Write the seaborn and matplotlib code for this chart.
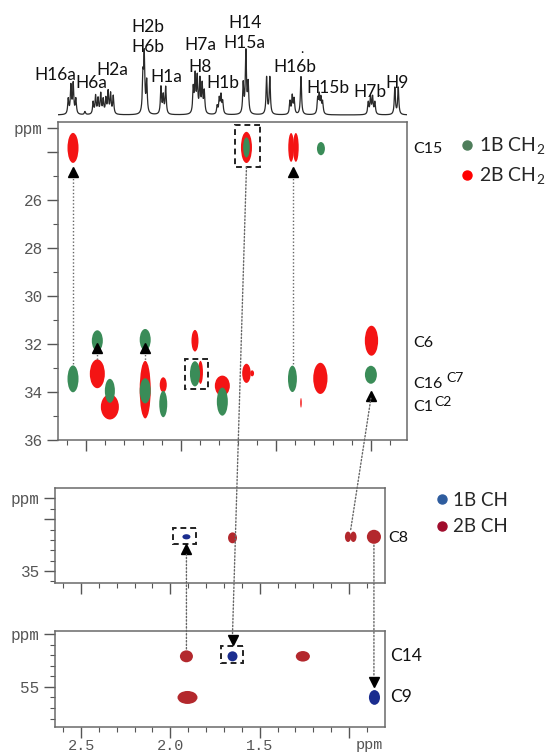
import numpy as np
import seaborn as sns
import matplotlib.pyplot as plt
from matplotlib.patches import Ellipse, Rectangle, ConnectionPatch
from matplotlib.lines import Line2D

sns.set_style("ticks")
plt.rcParams['font.family'] = ['Lato', 'DejaVu Sans']
plt.rcParams['mathtext.fontset'] = 'custom'
plt.rcParams['mathtext.rm'] = 'Lato'

# 1H spectrum: line positions (ppm) and heights
h1_shift = [2.593, 2.579, 2.567, 2.553, 2.505,
            2.462, 2.449, 2.436, 2.422, 2.409,
            2.395, 2.383, 2.370, 2.356,
            2.200, 2.193, 2.180,
            2.105, 2.093, 2.080,
            1.935, 1.925, 1.914, 1.900, 1.888, 1.877,
            1.809, 1.798, 1.789, 1.780,
            1.672, 1.658, 1.646,
            1.549, 1.532,
            1.426, 1.414, 1.404, 1.368,
            1.280, 1.272, 1.263, 1.254,
            1.014, 1.002, 0.991, 0.979,
            0.874, 0.856]
h1_height = [15, 28, 30, 15, 3,
             12, 18, 15, 20, 14,
             15, 22, 20, 18,
             35, 57, 32,
             27, 18, 27,
             25, 37, 35, 33, 28, 22,
             8, 15, 18, 12,
             30, 62, 30,
             37, 37,
             13, 18, 15, 38,
             15, 18, 15, 12,
             12, 17, 17, 12,
             27, 27]
h1_labels = ['H16a', 'H6a', 'H2a', 'H2b', 'H6b', 'H1a', 'H7a', 'H8', 'H1b',
             'H14', 'H15a', 'H16b', 'H15b', 'H7b', 'H9']

# CH2 region (1B green, 2B red): 1H ppm, 13C ppm, extent in ppm
ch2_1b_x = [1.655, 1.263, 2.568, 2.440, 2.374, 2.188, 2.188, 2.093, 1.926, 1.782, 1.413, 1.000]
ch2_1b_y = [23.80, 23.85, 33.45, 31.86, 33.95, 31.82, 33.95, 34.50, 33.24, 34.40, 33.45, 33.28]
ch2_1b_w = [0.035, 0.042, 0.058, 0.058, 0.053, 0.058, 0.058, 0.042, 0.053, 0.058, 0.047, 0.063]
ch2_1b_h = [0.84, 0.55, 1.12, 0.87, 1.00, 0.90, 1.05, 1.10, 1.05, 1.17, 1.10, 0.75]

ch2_2b_x = [2.568, 1.655, 1.420, 1.395, 2.440, 2.374, 2.188, 2.093, 1.926, 1.897,
            1.782, 1.655, 1.625, 1.368, 1.266, 0.997]
ch2_2b_y = [23.82, 23.80, 23.80, 23.80, 33.24, 34.62, 33.90, 33.70, 31.86, 33.18,
            33.74, 33.22, 33.22, 34.45, 33.43, 31.86]
ch2_2b_w = [0.058, 0.058, 0.030, 0.030, 0.079, 0.095, 0.058, 0.037, 0.037, 0.026,
            0.079, 0.045, 0.020, 0.008, 0.075, 0.070]
ch2_2b_h = [1.25, 1.30, 1.20, 1.20, 1.20, 1.05, 2.40, 0.63, 0.90, 0.96,
            0.85, 0.80, 0.25, 0.40, 1.30, 1.25]

# CH region, C8 window
c8_1b_x = [1.910]
c8_1b_y = [34.67]
c8_1b_w = [0.045]
c8_1b_h = [0.05]
c8_2b_x = [1.652, 1.005, 0.975, 0.860]
c8_2b_y = [34.68, 34.67, 34.67, 34.67]
c8_2b_w = [0.050, 0.035, 0.035, 0.079]
c8_2b_h = [0.105, 0.10, 0.10, 0.135]

# CH region, C14 / C9 window
c14_1b_x = [1.652, 0.857]
c14_1b_y = [54.71, 55.10]
c14_1b_w = [0.056, 0.062]
c14_1b_h = [0.095, 0.14]
c14_2b_x = [1.910, 1.258, 1.904]
c14_2b_y = [54.71, 54.71, 55.10]
c14_2b_w = [0.073, 0.079, 0.112]
c14_2b_h = [0.113, 0.10, 0.123]

GREEN = '#3a8c58'
RED = '#f41414'
DRED = '#b3282d'
NAVY = '#1b2d8f'
FRAME = '#6a6a6a'
TXT = '#555555'

W, H = 555, 755
fig = plt.figure(figsize=(W / 100, H / 100), dpi=100)


def rect(l, t, r, b):
    return [l / W, 1 - b / H, (r - l) / W, (b - t) / H]


ax_1d = fig.add_axes(rect(58, 5, 407, 118))
ax_top = fig.add_axes(rect(58, 122, 407, 440))
ax_mid = fig.add_axes(rect(55, 488, 385, 583))
ax_bot = fig.add_axes(rect(55, 631, 385, 727))

# ---- 1D proton trace ----
gamma = 0.0035
grid = np.arange(0.81, 2.647, 0.0005)
spec = np.zeros_like(grid)
for s, hgt in zip(h1_shift, h1_height):
    spec += hgt * gamma ** 2 / ((grid - s) ** 2 + gamma ** 2)
sns.lineplot(x=grid, y=spec, ax=ax_1d, color='#2a2a2a', lw=0.9,
             estimator=None, sort=False)
ax_1d.set_xlim(2.647, 0.81)
ax_1d.set_ylim(-3, 110)
ax_1d.axis('off')

label_pos = [(2.663, 40.5), (2.47, 31.5), (2.363, 45.3), (2.172, 88.3), (2.172, 68.3),
             (2.079, 38.3), (1.90, 70), (1.898, 48.3), (1.779, 32), (1.66, 92),
             (1.665, 71.7), (1.40, 48.3), (1.225, 26.7), (1.005, 23.3), (0.863, 31.7)]
for lab, (lx, ly) in zip(h1_labels, label_pos):
    ax_1d.text(lx, ly, lab, ha='center', va='center', fontsize=12.5,
               color='#111', clip_on=False)
ax_1d.text(1.365, 66, '.', ha='center', va='center', fontsize=10, color='#111')


def draw_peaks(ax, xs, ys, ws, hs, color):
    for x, y, w, h in zip(xs, ys, ws, hs):
        ax.add_patch(Ellipse((x, y), w, h, facecolor=color, edgecolor='none'))


def style_axis(ax, xlim, ylim, yticks, ylabels, yminor):
    ax.set_xlim(*xlim)
    ax.set_ylim(*ylim)
    for sp in ax.spines.values():
        sp.set_visible(True)
        sp.set_color(FRAME)
        sp.set_linewidth(1.1)
    ax.set_xticks([2.5, 2.0, 1.5, 1.0])
    ax.set_xticks([round(v, 1) for v in np.arange(0.9, 2.65, 0.1)], minor=True)
    ax.set_yticks(yticks)
    ax.set_yticklabels(ylabels)
    ax.set_yticks(yminor, minor=True)
    ax.tick_params(which='both', direction='out', color='#555', labelcolor=TXT,
                   labelfontfamily='Liberation Mono', labelsize=11.5)
    ax.tick_params(which='major', length=8, width=1, pad=3)
    ax.tick_params(which='minor', length=3.5, width=0.8)
    ax.grid(False)


def box(ax, x0, x1, y0, y1):
    ax.add_patch(Rectangle((x0, y0), x1 - x0, y1 - y0, facecolor='none',
                           edgecolor='#222', lw=1.4, ls=(0, (3, 2)), zorder=5))


# ---- CH2 panel ----
draw_peaks(ax_top, ch2_2b_x, ch2_2b_y, ch2_2b_w, ch2_2b_h, RED)
draw_peaks(ax_top, ch2_1b_x, ch2_1b_y, ch2_1b_w, ch2_1b_h, GREEN)
style_axis(ax_top, (2.647, 0.81), (36.0, 22.74),
           [23.0, 24, 26, 28, 30, 32, 34, 36],
           ['ppm', '', '26', '28', '30', '32', '34', '36'],
           [25, 27, 29, 31, 33, 35])
ax_top.tick_params(labelbottom=False)
box(ax_top, 1.584, 1.716, 22.86, 24.62)
box(ax_top, 1.858, 1.979, 32.61, 33.87)

dot = dict(color='#666', lw=1, ls=(0, (1, 1.5)))
for xx, y0, y1 in [(2.568, 24.95, 32.9), (1.41, 24.95, 32.85),
                   (2.44, 32.3, 32.65), (2.19, 32.3, 32.7)]:
    ax_top.plot([xx, xx], [y0, y1], **dot)
    ax_top.plot(xx, y0 - 0.14, marker='^', color='black', ms=6.5, zorder=6)
ax_top.plot(1.0, 34.16, marker='^', color='black', ms=6.5, zorder=6, clip_on=False)

ylab = ax_top.get_yaxis_transform()
ax_top.text(1.017, 23.87, 'C15', transform=ylab, va='center', fontsize=11.5, color='#111')
ax_top.text(1.017, 31.94, 'C6', transform=ylab, va='center', fontsize=11.5, color='#111')
ax_top.text(1.017, 33.66, 'C16', transform=ylab, va='center', fontsize=11.5, color='#111')
ax_top.text(1.112, 33.40, 'C7', transform=ylab, va='center', fontsize=10, color='#111')
ax_top.text(1.078, 34.40, 'C2', transform=ylab, va='center', fontsize=10, color='#111')
ax_top.text(1.017, 34.62, 'C1', transform=ylab, va='center', fontsize=11.5, color='#111')

h1 = [Line2D([], [], marker='o', ls='', color='#4e7d5a', ms=6.5),
      Line2D([], [], marker='o', ls='', color='#ff0000', ms=6.5)]
ax_top.legend(h1, [r'1B CH$_{\mathregular{2}}$', r'2B CH$_{\mathregular{2}}$'],
              loc='upper left', bbox_to_anchor=(462 / W, 1 - 136 / H),
              bbox_transform=fig.transFigure, frameon=False, fontsize=14,
              handlelength=0.5, handletextpad=0.35, labelspacing=0.42,
              borderpad=0, borderaxespad=0)

# ---- C8 panel ----
draw_peaks(ax_mid, c8_2b_x, c8_2b_y, c8_2b_w, c8_2b_h, DRED)
draw_peaks(ax_mid, c8_1b_x, c8_1b_y, c8_1b_w, c8_1b_h, NAVY)
style_axis(ax_mid, (2.646, 0.798), (35.115, 34.2),
           [34.3, 34.5, 35.0], ['ppm', '', '35'],
           [34.4, 34.6, 34.7, 34.8, 34.9, 35.1])
ax_mid.tick_params(labelbottom=False)
box(ax_mid, 1.854, 1.983, 34.59, 34.74)
ax_mid.plot(1.91, 34.79, marker='^', color='black', ms=6.5, zorder=6, clip_on=False)
ax_mid.text(1.009, 34.68, 'C8', transform=ax_mid.get_yaxis_transform(),
            va='center', fontsize=11.5, color='#111')
h2 = [Line2D([], [], marker='o', ls='', color='#2e5c9e', ms=6.5),
      Line2D([], [], marker='o', ls='', color='#a00c2c', ms=6.5)]
ax_mid.legend(h2, ['1B CH', '2B CH'],
              loc='upper left', bbox_to_anchor=(437 / W, 1 - 492 / H),
              bbox_transform=fig.transFigure, frameon=False, fontsize=13.5,
              handlelength=0.5, handletextpad=0.35, labelspacing=0.5,
              borderpad=0, borderaxespad=0)

# ---- C14 / C9 panel ----
draw_peaks(ax_bot, c14_2b_x, c14_2b_y, c14_2b_w, c14_2b_h, DRED)
draw_peaks(ax_bot, c14_1b_x, c14_1b_y, c14_1b_w, c14_1b_h, NAVY)
style_axis(ax_bot, (2.646, 0.798), (55.38, 54.47),
           [54.5, 55.0], ['ppm', '55'],
           [54.6, 54.7, 54.8, 54.9, 55.1, 55.2, 55.3])
ax_bot.set_xticklabels(['2.5', '2.0', '1.5', ''])
ax_bot.tick_params(axis='x', which='major', length=8, pad=1, labelsize=11)
ax_bot.text(0.888, -0.11, 'ppm', transform=ax_bot.get_xaxis_transform(),
            ha='center', va='top', fontsize=11, color=TXT, family='Liberation Mono')
box(ax_bot, 1.595, 1.719, 54.61, 54.77)
ax_bot.plot(1.652, 54.56, marker='v', color='black', ms=6.5, zorder=6, clip_on=False)
ax_bot.plot(0.86, 54.95, marker='v', color='black', ms=6.5, zorder=6)
yb = ax_bot.get_yaxis_transform()
ax_bot.text(1.015, 54.71, 'C14', transform=yb, va='center', fontsize=12.5, color='#111')
ax_bot.text(1.015, 55.10, 'C9', transform=yb, va='center', fontsize=12.5, color='#111')

# ---- dotted links between panels ----
links = [(ax_top, (1.655, 24.62), ax_bot, (1.652, 54.50)),
         (ax_mid, (0.99, 34.60), ax_top, (1.0, 34.26)),
         (ax_bot, (1.91, 54.64), ax_mid, (1.91, 34.84)),
         (ax_mid, (0.86, 34.75), ax_bot, (0.86, 54.90))]
for axa, pa, axb, pb in links:
    con = ConnectionPatch(xyA=pa, coordsA='data', axesA=axa,
                          xyB=pb, coordsB='data', axesB=axb, **dot)
    fig.add_artist(con)

fig.savefig('out.png', dpi=100)
